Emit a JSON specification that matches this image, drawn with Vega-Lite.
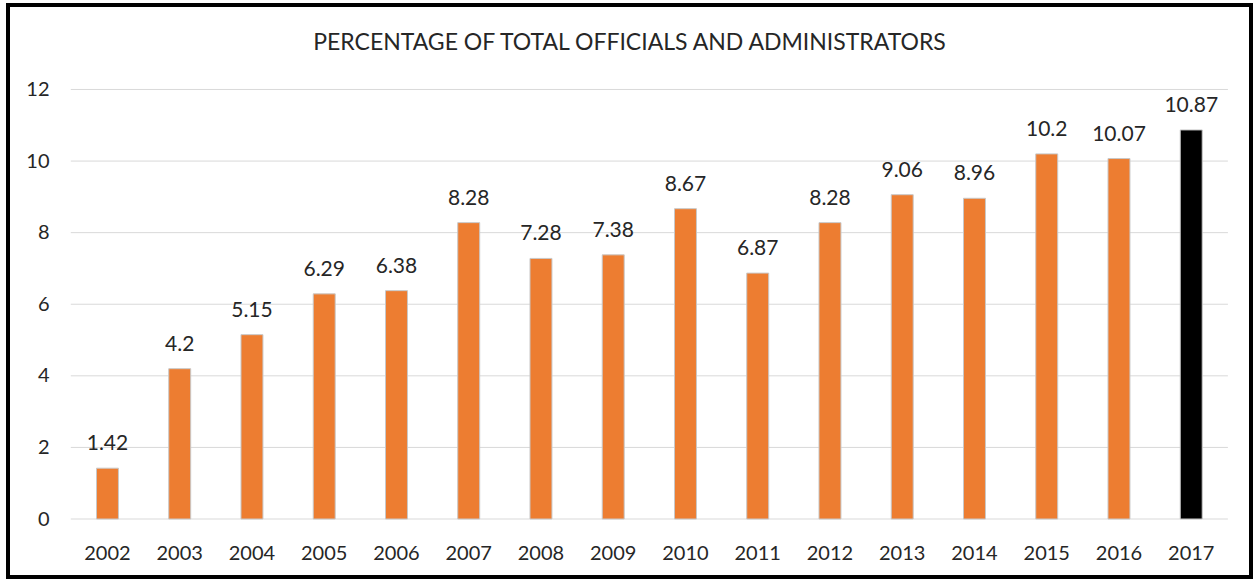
{
  "$schema": "https://vega.github.io/schema/vega-lite/v6.json",
  "width": 1243,
  "height": 572,
  "autosize": {"type": "none"},
  "padding": {"left": 8, "top": 5, "right": 2, "bottom": 3},
  "background": "white",
  "config": {
    "view": {"stroke": "black", "strokeWidth": 4},
    "font": "Lato"
  },
  "title": {
    "text": "PERCENTAGE OF TOTAL OFFICIALS AND ADMINISTRATORS",
    "fontSize": 23,
    "fontWeight": "normal",
    "font": "Lato",
    "color": "#262626",
    "offset": -68,
    "baseline": "alphabetic",
    "anchor": "middle",
    "frame": "group"
  },
  "datasets": {
    "grid": [{"v": 0}, {"v": 2}, {"v": 4}, {"v": 6}, {"v": 8}, {"v": 10}, {"v": 12}],
    "main": [
      {"year": "2002", "value": 1.42},
      {"year": "2003", "value": 4.2},
      {"year": "2004", "value": 5.15},
      {"year": "2005", "value": 6.29},
      {"year": "2006", "value": 6.38},
      {"year": "2007", "value": 8.28},
      {"year": "2008", "value": 7.28},
      {"year": "2009", "value": 7.38},
      {"year": "2010", "value": 8.67},
      {"year": "2011", "value": 6.87},
      {"year": "2012", "value": 8.28},
      {"year": "2013", "value": 9.06},
      {"year": "2014", "value": 8.96},
      {"year": "2015", "value": 10.2},
      {"year": "2016", "value": 10.07},
      {"year": "2017", "value": 10.87}
    ]
  },
  "encoding": {
    "x": {
      "field": "year",
      "type": "nominal",
      "scale": {"type": "band", "paddingInner": 0.696, "paddingOuter": 0.95, "align": 0.6446},
      "axis": {
        "orient": "bottom",
        "offset": -58,
        "domain": false,
        "ticks": false,
        "grid": false,
        "labelPadding": 40,
        "labelBaseline": "alphabetic",
        "labelFontSize": 20,
        "labelFont": "Lato",
        "labelColor": "#262626",
        "labelAngle": 0,
        "title": null
      }
    },
    "y": {
      "field": "value",
      "type": "quantitative",
      "scale": {"domain": [-1.62, 14.36], "nice": false, "zero": false},
      "axis": {
        "orient": "left",
        "offset": -41,
        "values": [0, 2, 4, 6, 8, 10, 12],
        "domain": false,
        "ticks": false,
        "grid": false,
        "labelPadding": 0,
        "labelFontSize": 20,
        "labelFont": "Lato",
        "labelColor": "#262626",
        "labelFlush": false,
        "labelOverlap": false,
        "title": null
      }
    }
  },
  "layer": [
    {
      "data": {"name": "grid"},
      "mark": {"type": "rule", "color": "#d9d9d9", "strokeWidth": 1},
      "encoding": {
        "y": {"field": "v", "type": "quantitative"},
        "x": {"datum": "2002", "bandPosition": -1.17},
        "x2": {"datum": "2017", "bandPosition": 2.17}
      }
    },
    {
      "data": {"name": "main"},
      "mark": {"type": "bar", "stroke": "#c8c8c8", "strokeWidth": 1},
      "encoding": {
        "y2": {"datum": 0},
        "color": {
          "condition": {"test": "datum.year === '2017'", "value": "#000000"},
          "value": "#ED7D31"
        }
      }
    },
    {
      "data": {"name": "main"},
      "mark": {"type": "text", "baseline": "alphabetic", "dy": -18, "fontSize": 21, "font": "Lato", "color": "#262626"},
      "encoding": {
        "text": {"field": "value", "type": "quantitative"}
      }
    }
  ]
}
